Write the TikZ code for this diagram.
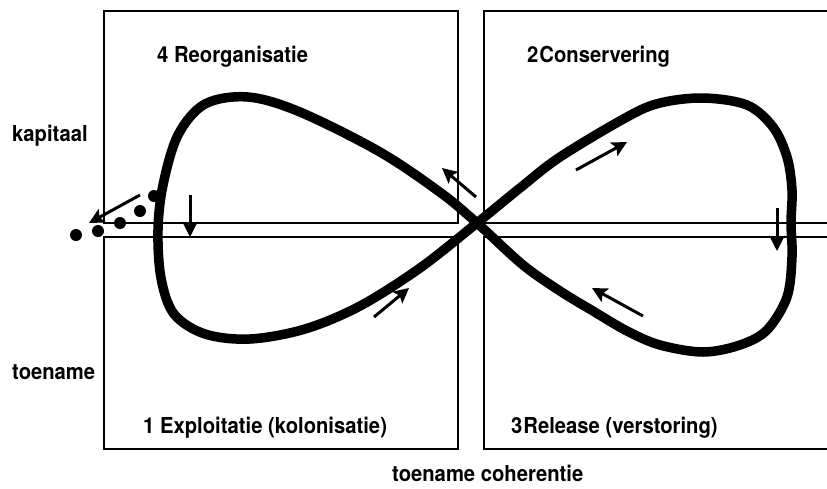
\documentclass[tikz,border=0pt]{standalone}
\usepackage{fontspec}
\setmainfont{TeX Gyre Heros}
\newfontfamily\condbold[FakeStretch=0.92]{TeX Gyre Heros}
\usetikzlibrary{arrows.meta}
\begin{document}
\begin{tikzpicture}[x=1pt,y=-1pt,
  boxline/.style={line width=1.5pt},
  eightloop/.style={line width=9.5pt, line join=round},
  flow/.style={line width=3pt, -{Stealth[length=15pt,width=15pt,inset=3pt]}},
  lbl/.style={anchor=base west, inner sep=0pt, font=\condbold\bfseries\fontsize{22}{26}\selectfont},
  dot/.style={fill=black}]
\useasboundingbox (0,0) rectangle (827,488);
% quadrant boxes
\draw[boxline] (104,11) rectangle (458,223);
\draw[boxline] (104,237) rectangle (458,449);
\draw[boxline] (827,11) -- (484,11) -- (484,223) -- (827,223);
\draw[boxline] (827,237) -- (484,237) -- (484,449) -- (827,449);
% dots
\fill[dot] (76,235) circle[radius=6pt];
\fill[dot] (98,231) circle[radius=6pt];
\fill[dot] (120,223) circle[radius=6pt];
\fill[dot] (140,211) circle[radius=6pt];
\fill[dot] (154,196) circle[radius=6pt];
% figure eight
\draw[eightloop] plot[smooth cycle, tension=0.55] coordinates {
  (477,223) (441,193) (380,152) (300,112) (248,97) (205,104) (178,135)
  (163,185) (158,230) (161,278) (174,314) (205,334) (250,339) (305,329)
  (360,306) (420,268) (477,223) (520,188) (560,157) (627,117) (660,103)
  (703,98) (747,105) (773,127) (787,157) (792,190) (791,223) (792,257)
  (787,297) (767,330) (740,345) (703,352) (660,345) (627,331) (593,311)
  (560,291) (523,265)};
% arrows
\coordinate (a1s) at (190,195); \coordinate (a1e) at (190,237);
\coordinate (a2s) at (777,208); \coordinate (a2e) at (777,251);
\coordinate (a3s) at (140,195); \coordinate (a3e) at (89,223);
\coordinate (a4s) at (476,197); \coordinate (a4e) at (442,168);
\coordinate (a5s) at (576,170); \coordinate (a5e) at (627,142);
\coordinate (a6s) at (374,317); \coordinate (a6e) at (409,288);
\coordinate (a7s) at (643,316); \coordinate (a7e) at (592,288);
\draw[flow] (a1s) -- (a1e);
\draw[flow] (a2s) -- (a2e);
\draw[flow] (a3s) -- (a3e);
\draw[flow] (a4s) -- (a4e);
\draw[flow] (a5s) -- (a5e);
\draw[flow] (a6s) -- (a6e);
\draw[flow] (a7s) -- (a7e);
% labels
\node[lbl] (q4) at (157,62) {4 Reorganisatie};
\node[lbl] (q2) at (527,62) {2\kern1pt Conservering};
\node[lbl] (q1) at (143,433) {1 Exploitatie (kolonisatie)};
\node[lbl] (q3) at (511,433) {3\kern1pt Release (verstoring)};
\node[lbl] (xl) at (392,481) {toename coherentie};
\node[lbl] (yl1) at (12,141) {kapitaal};
\node[lbl] (yl2) at (12,379) {toename};
\end{tikzpicture}
\end{document}
